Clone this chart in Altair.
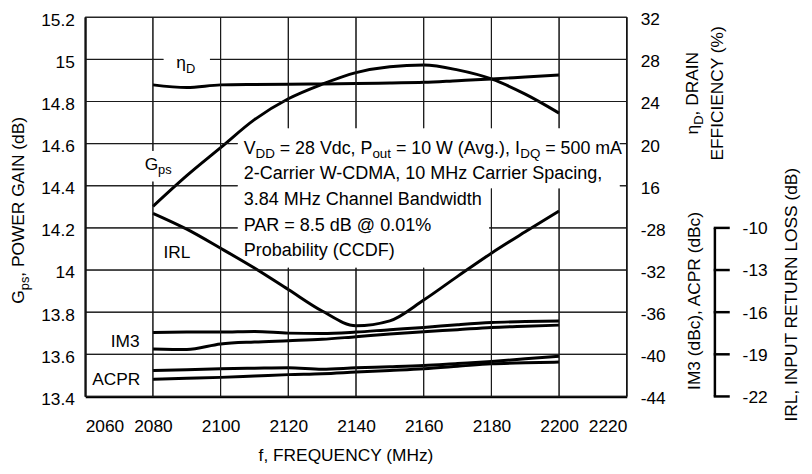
import altair as alt
import pandas as pd

# ---------------- data ----------------
freq = [2080, 2090, 2100, 2110, 2120, 2130, 2140, 2150, 2160, 2170, 2180, 2190, 2200]
gps = [14.302, 14.448, 14.581, 14.714, 14.813, 14.882, 14.937, 14.965, 14.973, 14.950, 14.907, 14.835, 14.745]
eta_d = [25.58, 25.33, 25.58, 25.62, 25.64, 25.67, 25.70, 25.76, 25.82, 25.98, 26.14, 26.33, 26.52]
irl = [-8.96, -10.09, -11.45, -12.86, -14.39, -15.92, -16.97, -16.62, -15.14, -13.45, -11.80, -10.28, -8.80]
im3_a = [-37.92, -37.89, -37.89, -37.83, -37.99, -38.03, -37.89, -37.66, -37.45, -37.19, -36.98, -36.89, -36.83]
im3_b = [-39.49, -39.54, -39.02, -38.83, -38.71, -38.58, -38.33, -38.08, -37.86, -37.66, -37.45, -37.33, -37.23]
acpr_a = [-41.53, -41.46, -41.37, -41.32, -41.28, -41.42, -41.28, -41.18, -41.06, -40.87, -40.68, -40.43, -40.18]
acpr_b = [-42.38, -42.28, -42.19, -42.06, -41.93, -41.84, -41.68, -41.53, -41.37, -41.14, -40.90, -40.81, -40.74]

x_ticks = [2060, 2080, 2100, 2120, 2140, 2160, 2180, 2200, 2220]
x_labels = ["2060", "2080", "2100", "2120", "2140", "2160", "2180", "2200", "2220"]
g_ticks = [13.4, 13.6, 13.8, 14.0, 14.2, 14.4, 14.6, 14.8, 15.0, 15.2]
g_labels = ["13.4", "13.6", "13.8", "14", "14.2", "14.4", "14.6", "14.8", "15", "15.2"]
right_labels = ["-44", "-40", "-36", "-32", "-28", "16", "20", "24", "28", "32"]
irl_ticks = [-10, -13, -16, -19, -22]
irl_labels = ["-10", "-13", "-16", "-19", "-22"]

# axis domains (all span the same vertical extent of the plot)
X_DOMAIN = [2060, 2220]
G_DOMAIN = [13.4, 15.2]
ETA_DOMAIN = [-4, 32]
DBC_DOMAIN = [-44, -8]
IRL_DOMAIN = [-22, 5]

# ---------------- layout ----------------
FONT = "Liberation Sans"
PL, PT, W, H = 86, 15, 547, 383

CW = {' ': 278, '!': 278, '%': 889, '(': 333, ')': 333, ',': 278, '-': 333, '.': 278,
      '=': 584, '@': 1015, 'A': 667, 'B': 667, 'C': 722, 'D': 722, 'E': 667, 'F': 611,
      'G': 778, 'H': 722, 'I': 278, 'L': 556, 'M': 833, 'N': 722, 'O': 778, 'P': 667,
      'Q': 778, 'R': 722, 'S': 667, 'T': 611, 'U': 722, 'V': 667, 'W': 944, 'Y': 667,
      'a': 556, 'b': 556, 'c': 500, 'd': 556, 'e': 556, 'g': 556, 'h': 556, 'i': 222,
      'l': 222, 'n': 556, 'o': 556, 'p': 556, 'r': 333, 's': 500, 't': 278, 'u': 556,
      'v': 500, 'w': 722, 'y': 500, 'z': 500, 'η': 556}


def tw(s, fs):
    return sum(CW.get(c, 556) for c in s) * fs / 1000.0


def to_f(px):
    return X_DOMAIN[0] + (px - PL) / W * (X_DOMAIN[1] - X_DOMAIN[0])


def to_g(py):
    return G_DOMAIN[1] - (py - PT) / H * (G_DOMAIN[1] - G_DOMAIN[0])


def build_runs(x0, y0, parts, rotated=False):
    rows = []
    pos = 0.0
    for text, fs, shift in parts:
        lead = len(text) - len(text.lstrip(' '))
        core = text.strip(' ')
        off = pos + tw(text[:lead], fs)
        if rotated:
            rows.append(dict(tf=to_f(x0 + shift), tg=to_g(y0 - off), txt=core, fs=fs, rot=1))
        else:
            rows.append(dict(tf=to_f(x0 + off), tg=to_g(y0 + shift), txt=core, fs=fs, rot=0))
        pos += tw(text, fs)
    return rows


def centered_start(parts, center):
    return center + sum(tw(t, fs) for t, fs, _ in parts) / 2.0


rows = []
rows += build_runs(246, 153, [("V", 18, 0), ("DD", 13.5, 4), (" = 28 Vdc, P", 18, 0), ("out", 13.5, 4),
                              (" = 10 W (Avg.), I", 18, 0), ("DQ", 13.5, 4), (" = 500 mA", 18, 0)])
rows += build_runs(246, 178.8, [("2-Carrier W-CDMA, 10 MHz Carrier Spacing,", 18.2, 0)])
rows += build_runs(246, 204.6, [("3.84 MHz Channel Bandwidth", 18.2, 0)])
rows += build_runs(246, 230.4, [("PAR = 8.5 dB @ 0.01%", 18.2, 0)])
rows += build_runs(246, 256.2, [("Probability (CCDF)", 18.2, 0)])
rows += build_runs(178, 66, [("η", 17.5, 0), ("D", 13, 5)])
rows += build_runs(146, 169, [("G", 17.5, 0), ("ps", 13, 4)])
rows += build_runs(165, 258, [("IRL", 17.5, 0)])
rows += build_runs(111.7, 348, [("IM3", 17.5, 0)])
rows += build_runs(93, 386, [("ACPR", 17.5, 0)])
xt = [("f, FREQUENCY (MHz)", 17.5, 0)]
rows += build_runs(352 - tw(xt[0][0], 17.5) / 2, 463, xt)

lt = [("G", 17.5, 0), ("ps", 13, 5), (", POWER GAIN (dB)", 17.5, 0)]
rows += build_runs(24.5, centered_start(lt, 210), lt, rotated=True)
e1 = [("η", 17.5, 0), ("D", 13, 5), (", DRAIN", 17.5, 0)]
rows += build_runs(705, centered_start(e1, 91.7), e1, rotated=True)
e2 = [("EFFICIENCY (%)", 17.5, 0)]
rows += build_runs(730, centered_start(e2, 91.7), e2, rotated=True)
i1 = [("IM3 (dBc), ACPR (dBc)", 17.5, 0)]
rows += build_runs(707, centered_start(i1, 301), i1, rotated=True)
i2 = [("IRL, INPUT RETURN LOSS (dB)", 17.5, 0)]
rows += build_runs(805, centered_start(i2, 295), i2, rotated=True)
text_df = pd.DataFrame(rows)

# white backgrounds behind the annotations (plot-area pixels: left, right, top, bottom)
bg_x1 = [154, 154, 79, 58]
bg_x2 = [540, 408, 126, 89]
bg_y1 = [112, 171, 37, 135]
bg_y2 = [173, 253, 48, 166]

# the same regions in data units, used to interrupt the grid lines
bg_boxes = [(to_f(a + PL), to_f(b + PL), to_g(d + PT), to_g(c + PT))
            for a, b, c, d in zip(bg_x1, bg_x2, bg_y1, bg_y2)]


def subtract(lo, hi, cuts):
    segs = [(lo, hi)]
    for c0, c1 in sorted(cuts):
        nxt = []
        for s0, s1 in segs:
            if c1 <= s0 or c0 >= s1:
                nxt.append((s0, s1))
            else:
                if c0 > s0:
                    nxt.append((s0, c0))
                if c1 < s1:
                    nxt.append((c1, s1))
        segs = nxt
    return segs


grid_rows = []
for fv in x_ticks:
    cuts = [(g0, g1) for f0, f1, g0, g1 in bg_boxes if f0 < fv < f1]
    for s0, s1 in subtract(G_DOMAIN[0], G_DOMAIN[1], cuts):
        grid_rows.append(dict(x1=fv, x2=fv, y1=s0, y2=s1))
for gv in g_ticks:
    cuts = [(f0, f1) for f0, f1, g0, g1 in bg_boxes if g0 < gv < g1]
    for s0, s1 in subtract(X_DOMAIN[0], X_DOMAIN[1], cuts):
        grid_rows.append(dict(x1=s0, x2=s1, y1=gv, y2=gv))
grid_df = pd.DataFrame(grid_rows)


def arr_expr(labels, start, step):
    return "[" + ",".join("'%s'" % s for s in labels) + "][round((datum.value - %s) / %s)]" % (start, step)


def map_expr(field, dom):
    # linear mapping of a secondary-axis quantity onto the primary (gain) axis
    return "%s + (datum.%s - (%s)) / %s * %s" % (G_DOMAIN[0], field, dom[0], dom[1] - dom[0],
                                                   G_DOMAIN[1] - G_DOMAIN[0])


x_scale = alt.Scale(domain=X_DOMAIN, nice=False, zero=False)
g_scale = alt.Scale(domain=G_DOMAIN, nice=False, zero=False)

x_axis = alt.Axis(values=x_ticks, labelExpr=arr_expr(x_labels, 2060, 20), grid=False,
                  ticks=False, domainColor="black", domainWidth=2.5, labelPadding=21,
                  labelFontSize=17.5, labelFont=FONT, labelColor="black", title=None)
left_axis = alt.Axis(orient="left", values=g_ticks, labelExpr=arr_expr(g_labels, 13.4, 0.2), grid=False,
                     ticks=False, domainColor="black", domainWidth=2, labelFont=FONT, labelColor="black",
                     labelPadding=11, labelOffset=3, labelFontSize=17.5, title=None)

X = alt.X("f:Q", scale=x_scale, axis=x_axis)


def Y(field):
    return alt.Y(field, type="quantitative", scale=g_scale, axis=left_axis)


vgrid = alt.Chart(pd.DataFrame({"f": x_ticks})).mark_rule(color="black", strokeWidth=1).encode(
    x=X, y=alt.value(0), y2=alt.value(H))
hgrid = alt.Chart(pd.DataFrame({"g": g_ticks})).mark_rule(color="black", strokeWidth=1).encode(
    y=Y("g"), x=alt.value(0), x2=alt.value(W))

bg_layers = [
    alt.Chart(pd.DataFrame({"k": [i]})).mark_rect(fill="white").encode(
        x=alt.value(a), x2=alt.value(b), y=alt.value(c), y2=alt.value(d))
    for i, (a, b, c, d) in enumerate(zip(bg_x1, bg_x2, bg_y1, bg_y2))
]

grid_segs = alt.Chart(grid_df).mark_rule(color="#1a1a1a", strokeWidth=1).encode(
    x=alt.X("x1:Q", scale=x_scale, axis=x_axis), x2="x2:Q", y=Y("y1"), y2="y2:Q")

curves = pd.DataFrame({"f": freq, "gps": gps, "eta": eta_d, "irl": irl})
line_kw = dict(color="black", strokeWidth=3, interpolate="monotone")

g_line = alt.Chart(curves).mark_line(**line_kw).encode(x=X, y=Y("gps"))
eta_line = alt.Chart(curves).transform_calculate(gy=map_expr("eta", ETA_DOMAIN)).mark_line(**line_kw).encode(
    x=X, y=Y("gy"))
irl_line = alt.Chart(curves).transform_calculate(gy=map_expr("irl", IRL_DOMAIN)).mark_line(**line_kw).encode(
    x=X, y=Y("gy"))

dbc = pd.DataFrame({"f": freq * 4, "v": im3_a + im3_b + acpr_a + acpr_b,
                    "s": ["IM3 a"] * 13 + ["IM3 b"] * 13 + ["ACPR a"] * 13 + ["ACPR b"] * 13})
dbc_lines = alt.Chart(dbc).transform_calculate(gy=map_expr("v", DBC_DOMAIN)).mark_line(**line_kw).encode(
    x=X, y=Y("gy"), detail="s:N")

# right-hand axis (efficiency above, IM3/ACPR below) on the shared gain scale
right_domain = alt.Chart(pd.DataFrame({"k": [0]})).mark_rule(color="black", strokeWidth=1.5).encode(
    x=alt.value(W), y=alt.value(0), y2=alt.value(H))
right_text = alt.Chart(pd.DataFrame({"g": g_ticks, "lab": right_labels})).mark_text(
    align="left", baseline="middle", dy=3, font=FONT, fontSize=17.5, color="black").encode(
    x=alt.value(W + 14), y=Y("g"), text="lab:N")

# separate IRL bracket axis
irl_tdf = pd.DataFrame({"t": irl_ticks, "lab": irl_labels})
irl_span = pd.DataFrame({"lo": [min(irl_ticks)], "hi": [max(irl_ticks)]})
irl_bracket = alt.Chart(irl_span).transform_calculate(
    glo=map_expr("lo", IRL_DOMAIN), ghi=map_expr("hi", IRL_DOMAIN)).mark_rule(
    color="black", strokeWidth=2.5).encode(
    x=alt.value(636), y=Y("glo"), y2="ghi:Q")
irl_tick_rules = alt.Chart(irl_tdf).transform_calculate(gt=map_expr("t", IRL_DOMAIN)).mark_rule(
    color="black", strokeWidth=2.5).encode(x=alt.value(634.8), x2=alt.value(651), y=Y("gt"))
irl_tick_text = alt.Chart(irl_tdf).transform_calculate(gt=map_expr("t", IRL_DOMAIN)).mark_text(
    align="left", baseline="middle", dy=1.5, font=FONT, fontSize=17.5, color="black").encode(
    x=alt.value(664), y=Y("gt"), text="lab:N")

text_layers = []
for (fs, rot), sub in text_df.groupby(["fs", "rot"]):
    kw = dict(align="left", baseline="alphabetic", font=FONT, fontSize=float(fs), color="black")
    if rot:
        kw["angle"] = 270
    text_layers.append(alt.Chart(sub.reset_index(drop=True)).mark_text(**kw).encode(
        x=alt.X("tf:Q", scale=x_scale, axis=x_axis), y=Y("tg"), text="txt:N"))

chart = alt.layer(
    vgrid, hgrid, *bg_layers, g_line, eta_line, dbc_lines, irl_line, right_domain, right_text,
    irl_bracket, irl_tick_rules, irl_tick_text, grid_segs, *text_layers
).properties(
    width=W, height=H,
    padding={"left": 78, "top": 7, "right": 179, "bottom": 76},
    autosize=alt.AutoSizeParams(type="none"),
    background="white",
).configure_view(stroke=None)

chart.save("out.html", embed_options={"renderer": "svg", "actions": False})
